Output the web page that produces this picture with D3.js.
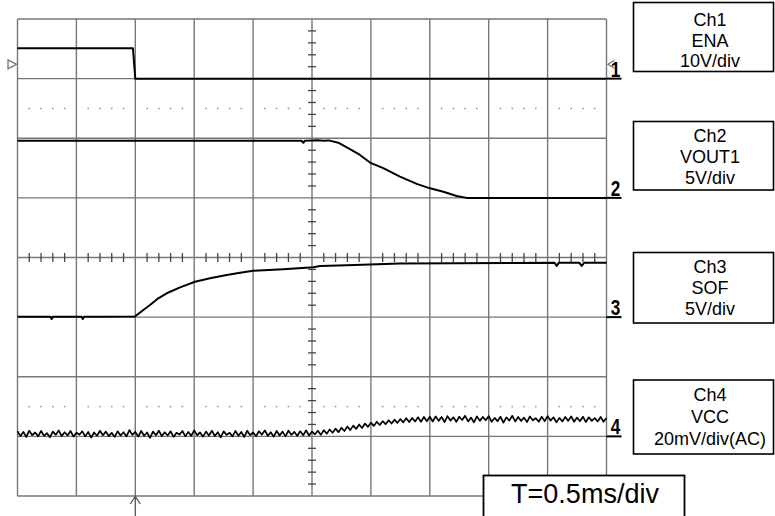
<!DOCTYPE html>
<html>
<head>
<meta charset="utf-8">
<script src="https://cdn.jsdelivr.net/npm/d3@7"></script>
<style>
  body { margin: 0; background: #fff; }
  text { font-family: "Liberation Sans", Arial, sans-serif; }
</style>
</head>
<body>
<svg id="scope" width="775" height="516"></svg>
<script>
// time base: 0.5 ms/div, trigger at 0 ms, 10 divisions
const timeDomain = [-1, 4];
const trigLevel = 2.4; // V on ch1

// Ch1 ENA (V)
const ch1 = [[-1, 5.08], [-0.02, 5.08], [0.0, 0], [4, 0]];

// Ch2 VOUT1 (V)
const ch2 = [
  [-1, 4.8], [1.41, 4.8], [1.426, 4.62], [1.44, 4.8], [1.55, 4.84], [1.6, 4.8],
  [1.64, 4.82], [1.723, 4.63], [1.822, 4.08], [1.907, 3.6], [1.992, 2.96],
  [2.105, 2.49], [2.247, 1.78], [2.389, 1.17], [2.502, 0.8], [2.615, 0.52],
  [2.728, 0.16], [2.813, 0], [4, 0]
];

// Ch3 SOF (V)
const ch3 = [
  [-1, 0.03], [-0.72, 0.03], [-0.71, -0.16], [-0.7, 0.03], [-0.455, 0.03],
  [-0.446, -0.16], [-0.435, 0.03], [-0.003, 0.05], [0.068, 0.6], [0.125, 1.02],
  [0.195, 1.58], [0.267, 2.0], [0.38, 2.5], [0.507, 2.97], [0.634, 3.26],
  [0.776, 3.53], [0.889, 3.73], [1.002, 3.89], [1.256, 4.01], [1.511, 4.18],
  [1.568, 4.29], [1.795, 4.35], [2.247, 4.5], [3.56, 4.55], [3.577, 4.3],
  [3.595, 4.55], [3.77, 4.55], [3.789, 4.3], [3.81, 4.55], [4, 4.55]
];

// Ch4 VCC ripple (mV, AC), sampled every 0.025 ms from -1 ms
const ch4Start = -1;
const ch4Step = 0.025;
const ch4 = [
  1.7, 0.1, 1.5, -0.2, 1.9, 0.4, 1.3, 0.0, 1.8, 0.2, 1.1, -0.3, 1.6, 0.5, 2.0, 0.1,
  1.4, 0.3, 1.8, -0.1, 1.2, 0.6, 1.7, 0.0, 1.5, -0.4, 1.3, 0.2, 1.9, 0.4, 1.6, 0.1,
  1.2, -0.2, 1.7, 0.3, 1.4, 0.0, 2.1, 0.5, 1.5, -0.1, 1.8, 0.2, 1.3, -0.5, 1.6, 0.4,
  1.9, 0.1, 1.4, 0.3, 1.7, -0.2, 1.2, 0.6, 1.8, 0.0, 1.5, 0.2, 2.0, 0.4, 1.3, -0.1,
  1.6, 0.3, 1.9, 0.1, 1.4, -0.3, 1.7, 0.5, 1.2, 0.0, 1.8, 0.2, 1.5, -0.2, 1.9, 0.4,
  1.3, 0.1, 1.7, 0.6, 2.0, 0.2, 1.4, -0.1, 1.8, 0.3, 1.6, 0.0, 1.9, 0.5, 1.5, 0.2,
  1.7, 0.4, 2.0, 0.3, 1.6, 0.7, 1.9, 0.5,
  2.1, 0.9, 2.3, 1.2, 2.6, 1.4, 2.9, 1.8, 3.3, 2.1, 3.6, 2.5, 4.0, 2.8, 4.3, 3.2,
  4.6, 3.5, 4.9, 3.8, 5.1, 4.1, 5.4, 4.3, 5.6, 4.5, 5.8, 4.7, 6.1, 4.8, 6.2, 5.0,
  6.4, 4.9, 6.5, 5.1, 6.6, 5.0,
  6.7, 5.2, 6.5, 4.8, 6.8, 5.3, 6.4, 4.9, 6.6, 5.5, 6.9, 5.0, 6.3, 4.7, 6.7, 5.2,
  6.5, 5.4, 6.8, 4.9, 6.2, 5.1, 6.6, 4.6, 6.4, 5.3, 6.9, 5.0, 6.5, 5.2, 6.3, 4.8,
  6.7, 5.4, 6.1, 4.9, 6.6, 5.1, 6.8, 5.3, 6.4, 4.7, 6.2, 5.0, 6.5, 5.2, 6.7, 4.9,
  6.3, 5.1, 6.6, 4.8, 6.4, 5.2, 6.1, 5.0, 6.5, 4.9, 6.2
];

// channel settings: ground offset in divisions, volts per division
const channels = [
  { id: 1, offset: 3, perDiv: 10, data: ch1 },
  { id: 2, offset: 1, perDiv: 5, data: ch2 },
  { id: 3, offset: -1, perDiv: 5, data: ch3 },
  { id: 4, offset: -3, perDiv: 20, data: ch4.map((v, i) => [ch4Start + i * ch4Step, v]) }
];

const boxLabels = [
  ["Ch1", "ENA", "10V/div"],
  ["Ch2", "VOUT1", "5V/div"],
  ["Ch3", "SOF", "5V/div"],
  ["Ch4", "VCC", "20mV/div(AC)"]
];
const timeLabel = "T=0.5ms/div";

// layout
const boxTops = [2.5, 121.5, 252.5, 380];
const boxHeights = [69, 68.5, 70.5, 74];
const lineBase = [[25.5, 46.5, 67], [141.5, 162.5, 183.5], [273, 294, 315], [401, 423, 445]];

const svg = d3.select("#scope");
const x = d3.scaleLinear().domain(timeDomain).range([17.5, 606.5]);
const yDiv = d3.scaleLinear().domain([-4, 4]).range([496, 19]);
const gridColor = "#777";

const grid = svg.append("g");
grid.selectAll(".vline").data(d3.range(-1, 4.01, 0.5)).join("line")
  .attr("x1", d => x(d)).attr("x2", d => x(d))
  .attr("y1", yDiv(4)).attr("y2", yDiv(-4))
  .attr("stroke", gridColor).attr("stroke-width", 1.4);
grid.selectAll(".hline").data(d3.range(-4, 4.01, 1)).join("line")
  .attr("x1", x(-1)).attr("x2", x(4))
  .attr("y1", d => yDiv(d)).attr("y2", d => yDiv(d))
  .attr("stroke", gridColor).attr("stroke-width", 1.4);

// minor ticks on the centre cross
const minorT = d3.range(-1, 4.001, 0.1).filter(t => Math.abs(t * 2 - Math.round(t * 2)) > 0.01);
const minorV = d3.range(-4, 4.001, 0.2).filter(v => Math.abs(v - Math.round(v)) > 0.01);
grid.selectAll(".tickx").data(minorT).join("line")
  .attr("x1", d => x(d)).attr("x2", d => x(d))
  .attr("y1", yDiv(0) - 4.5).attr("y2", yDiv(0) + 4.5)
  .attr("stroke", "#444").attr("stroke-width", 1.3);
grid.selectAll(".ticky").data(minorV).join("line")
  .attr("x1", x(1.5) - 4).attr("x2", x(1.5) + 4)
  .attr("y1", d => yDiv(d)).attr("y2", d => yDiv(d))
  .attr("stroke", "#444").attr("stroke-width", 1.3);

// dotted rows
[2.5, -2.5].forEach(r => {
  grid.selectAll(null).data(minorT).join("circle")
    .attr("cx", d => x(d)).attr("cy", yDiv(r)).attr("r", 0.9)
    .attr("fill", "#999");
});

// traces
channels.forEach(ch => {
  const y = v => yDiv(ch.offset + v / ch.perDiv);
  const line = d3.line().x(d => x(d[0])).y(d => y(d[1]));
  svg.append("path").datum(ch.data)
    .attr("d", line)
    .attr("fill", "none").attr("stroke", "#000")
    .attr("stroke-width", ch.id === 4 ? 1.7 : 2)
    .attr("stroke-linejoin", "round");

  // ground marker: number with underline
  const gy = yDiv(ch.offset);
  svg.append("line")
    .attr("x1", x(4)).attr("x2", x(4) + 15)
    .attr("y1", gy).attr("y2", gy)
    .attr("stroke", "#000").attr("stroke-width", 2);
  svg.append("text")
    .attr("transform", `translate(${x(4) + 9},${gy - 2}) scale(0.78,1)`)
    .attr("text-anchor", "middle")
    .attr("font-size", 22).attr("font-weight", "bold")
    .text(ch.id);
});

// trigger level markers
const ch1y = v => yDiv(channels[0].offset + v / channels[0].perDiv);
const ty = ch1y(trigLevel);
svg.append("path")
  .attr("d", `M8,${ty - 4.5}L16.5,${ty}L8,${ty + 4.5}Z`)
  .attr("fill", "none").attr("stroke", "#777").attr("stroke-width", 1.3);
svg.append("path")
  .attr("d", `M614.5,${ty - 4}L608,${ty}L614.5,${ty + 4}`)
  .attr("fill", "none").attr("stroke", "#777").attr("stroke-width", 1.3);

// trigger position arrow
const tx = x(0);
svg.append("path")
  .attr("d", `M${tx},${yDiv(-4)}V516M${tx - 5},${yDiv(-4) + 8}L${tx},${yDiv(-4) + 0.5}L${tx + 5},${yDiv(-4) + 8}`)
  .attr("fill", "none").attr("stroke", "#555").attr("stroke-width", 1.3);

// channel boxes
boxLabels.forEach((lines, i) => {
  const g = svg.append("g");
  g.append("rect")
    .attr("x", 633.5).attr("y", boxTops[i])
    .attr("width", 140).attr("height", boxHeights[i])
    .attr("fill", "#fff").attr("stroke", "#000").attr("stroke-width", 1.6);
  g.selectAll("text").data(lines).join("text")
    .attr("x", 710).attr("y", (d, j) => lineBase[i][j])
    .attr("text-anchor", "middle").attr("font-size", 18)
    .text(d => d);
});

// time base box
svg.append("rect")
  .attr("x", 483.5).attr("y", 475.5).attr("width", 201).attr("height", 60)
  .attr("fill", "#fff").attr("stroke", "#000").attr("stroke-width", 1.8);
svg.append("text")
  .attr("x", 585).attr("y", 503)
  .attr("text-anchor", "middle").attr("font-size", 27)
  .text(timeLabel);
</script>
</body>
</html>
